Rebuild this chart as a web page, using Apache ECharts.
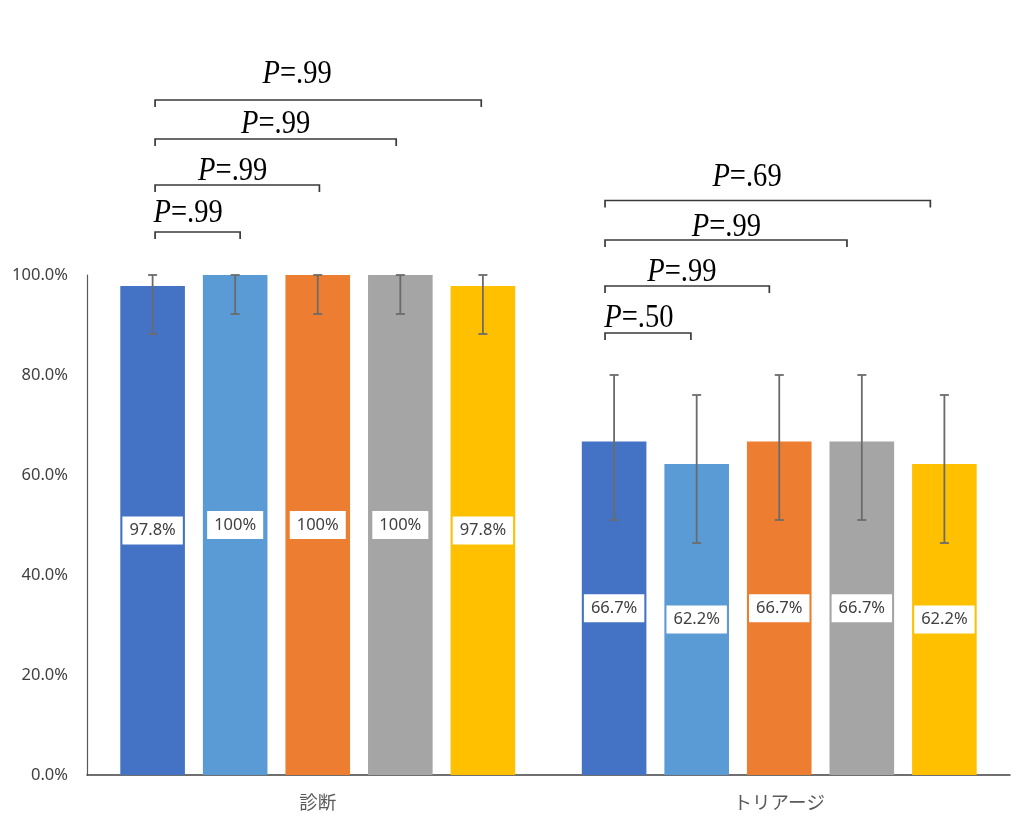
<!DOCTYPE html>
<html><head><meta charset="utf-8">
<script src="https://cdn.jsdelivr.net/npm/echarts@6/dist/echarts.min.js"></script>
<style>html,body{margin:0;padding:0;background:#fff}#c{width:1033px;height:832px}</style>
</head><body><div id="c"></div>
<script>
// ---- data ----
const categories = ['診断', 'トリアージ'];
const seriesNames = ['群1', '群2', '群3', '群4', '群5'];
const values = [[97.8, 66.7], [100, 62.2], [100, 66.7], [100, 66.7], [97.8, 62.2]];
const valueLabels = [['97.8%', '66.7%'], ['100%', '62.2%'], ['100%', '66.7%'], ['100%', '66.7%'], ['97.8%', '62.2%']];
const errLow = [[88.2, 51.0], [92.2, 46.4], [92.2, 51.0], [92.2, 51.0], [88.2, 46.4]];
const errHigh = [[100, 80.0], [100, 76.0], [100, 80.0], [100, 80.0], [100, 76.0]];
const yTicks = [0, 20, 40, 60, 80, 100];
const yTickLabels = ['0.0%', '20.0%', '40.0%', '60.0%', '80.0%', '100.0%'];
// significance brackets: category, from bar, to bar, bracket level (%)
const bracketCat = [0, 0, 0, 0, 1, 1, 1, 1];
const bracketFrom = [0.03, 0.03, 0.03, 0.03, -0.11, -0.11, -0.11, -0.11];
const bracketTo = [1.06, 2.02, 2.95, 3.98, 0.93, 1.88, 2.82, 3.83];
const bracketLevel = [108.6, 118.0, 127.2, 135.0, 88.4, 97.8, 107.0, 114.9];
const pText = ['.99', '.99', '.99', '.99', '.50', '.99', '.99', '.69'];
// P label anchor (bar index units) and level (%)
const pLabelAt = [0.43, 0.97, 1.49, 1.75, 0.30, 0.82, 1.36, 1.61];
const pLabelLevel = [112.4, 120.8, 130.2, 140.2, 91.4, 100.5, 109.6, 119.6];

// ---- style ----
const colors = ['#4472C4', '#5B9BD5', '#ED7D31', '#A5A5A5', '#FFC000'];
const BAR_W = 0.14, BAR_GAP = 0.278;

function barX(api, cat, idx) {
  const c = api.coord([cat, 0]);
  const band = api.size([1, 0])[0];
  const w = band * BAR_W;
  return c[0] + (idx - 2) * w * (1 + BAR_GAP);
}

const barSeries = seriesNames.map((n, i) => ({
  name: n, type: 'bar', data: values[i],
  barWidth: (BAR_W * 100) + '%', barGap: (BAR_GAP * 100) + '%',
  itemStyle: { color: colors[i] },
  label: {
    show: true, position: 'inside',
    formatter: p => valueLabels[i][p.dataIndex],
    backgroundColor: '#fff', padding: [6, 7, 5, 7],
    color: '#404040', fontSize: 16.5, fontFamily: 'Noto Sans'
  },
  z: 2
}));

const errData = [];
for (let i = 0; i < seriesNames.length; i++)
  for (let c = 0; c < categories.length; c++)
    errData.push([c, i, errLow[i][c], errHigh[i][c]]);

const errSeries = {
  type: 'custom', data: errData, z: 3, silent: true,
  renderItem: (params, api) => {
    const cat = api.value(0), idx = api.value(1);
    const x = barX(api, cat, idx);
    const yl = api.coord([cat, api.value(2)])[1];
    const yh = api.coord([cat, api.value(3)])[1];
    const st = { stroke: '#6b6b6b', lineWidth: 1.8, fill: null };
    return { type: 'group', children: [
      { type: 'line', shape: { x1: x, y1: yl, x2: x, y2: yh }, style: st },
      { type: 'line', shape: { x1: x - 4.5, y1: yl, x2: x + 4.5, y2: yl }, style: st },
      { type: 'line', shape: { x1: x - 4.5, y1: yh, x2: x + 4.5, y2: yh }, style: st }
    ]};
  }
};

const bracketData = bracketCat.map((c, k) => [c, bracketFrom[k], bracketTo[k], bracketLevel[k], pLabelAt[k], pLabelLevel[k]]);
const bracketSeries = {
  type: 'custom', data: bracketData, z: 4, clip: false, silent: true,
  renderItem: (params, api) => {
    const cat = api.value(0);
    const x0 = barX(api, cat, api.value(1));
    const x1 = barX(api, cat, api.value(2));
    const y = api.coord([cat, api.value(3)])[1];
    const tx = barX(api, cat, api.value(4));
    const ty = api.coord([cat, api.value(5)])[1];
    const t = 7;
    return { type: 'group', children: [
      { type: 'polyline', shape: { points: [[x0, y + t], [x0, y], [x1, y], [x1, y + t]] },
        style: { stroke: '#3a3a3a', lineWidth: 1.7, fill: null } },
      { type: 'text', x: tx, y: ty, scaleX: 0.84,
        style: { x: 0, y: 0, text: '{i|P}{n|=' + pText[params.dataIndex] + '}', align: 'center', verticalAlign: 'middle',
          rich: {
            i: { fontFamily: 'Liberation Serif', fontStyle: 'italic', fontSize: 34, fill: '#000', fontWeight: 'normal' },
            n: { fontFamily: 'Liberation Serif', fontSize: 34, fill: '#000' }
          } } }
    ]};
  }
};

const chart = echarts.init(document.getElementById('c'), null, { renderer: 'canvas' });
chart.setOption({
  animation: false,
  backgroundColor: '#fff',
  grid: { left: 87, right: 23, top: 275, bottom: 57, containLabel: false },
  xAxis: {
    type: 'category', data: categories,
    axisLine: { lineStyle: { color: '#404040', width: 1.5 } },
    axisTick: { show: false },
    axisLabel: { color: '#595959', fontSize: 18.5, fontFamily: 'Noto Sans CJK JP', margin: 18 }
  },
  yAxis: {
    type: 'value', min: yTicks[0], max: yTicks[yTicks.length - 1], interval: yTicks[1] - yTicks[0],
    axisLine: { show: true, lineStyle: { color: '#595959', width: 1.2 } },
    axisTick: { show: false },
    splitLine: { show: false },
    axisLabel: { color: '#404040', fontSize: 16.5, fontFamily: 'Noto Sans', margin: 19,
      formatter: v => yTickLabels[yTicks.indexOf(v)] }
  },
  series: [...barSeries, errSeries, bracketSeries]
});
</script>
</body></html>
